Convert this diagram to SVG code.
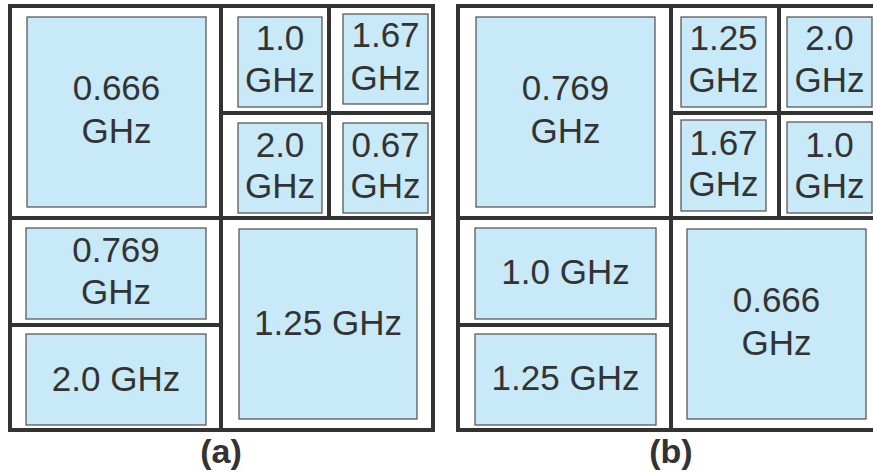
<svg xmlns="http://www.w3.org/2000/svg" width="873" height="472" viewBox="0 0 873 472">
<style>
.frame{fill:none;stroke:#333333;stroke-width:4;stroke-linecap:square}
.box{fill:#c7e9f8;stroke:#5a5a5a;stroke-width:1.3}
.t{font-family:"Liberation Sans",Arial,sans-serif;font-size:35px;fill:#333333;text-anchor:middle}
.lbl{font-family:"Liberation Sans",Arial,sans-serif;font-size:34px;font-weight:bold;fill:#333333;text-anchor:middle}
</style>
<rect width="873" height="472" fill="#ffffff"/>
<g id="connectors">
<path class="frame" d="M10,6 H433 V430 H10 Z M221,6 V430 M10,218 H433 M329,6 V218 M221,113 H433 M10,325 H221"/>
<path class="frame" d="M878,6 H458 V430 H878 M671,6 V430 M458,218 H878 M779,6 V218 M671,113 H878 M458,325 H671"/>
</g>
<g id="a-0666"><rect class="box" x="27" y="17" width="179" height="190"/><text class="t" x="116.5" y="100">0.666</text><text class="t" x="116.5" y="143">GHz</text></g>
<g id="a-10"><rect class="box" x="238" y="17" width="84" height="90"/><text class="t" x="280" y="50">1.0</text><text class="t" x="280" y="92">GHz</text></g>
<g id="a-167"><rect class="box" x="343" y="14" width="85" height="90"/><text class="t" x="385.5" y="47">1.67</text><text class="t" x="385.5" y="90">GHz</text></g>
<g id="a-20"><rect class="box" x="238" y="123" width="84" height="90"/><text class="t" x="280" y="157">2.0</text><text class="t" x="280" y="198">GHz</text></g>
<g id="a-067"><rect class="box" x="343" y="123" width="85" height="90"/><text class="t" x="385.5" y="157">0.67</text><text class="t" x="385.5" y="198">GHz</text></g>
<g id="a-0769"><rect class="box" x="26" y="228" width="180" height="91"/><text class="t" x="116" y="262">0.769</text><text class="t" x="116" y="304">GHz</text></g>
<g id="a-20b"><rect class="box" x="26" y="334" width="180" height="91"/><text class="t" x="116" y="391">2.0 GHz</text></g>
<g id="a-125"><rect class="box" x="239" y="229" width="178" height="190"/><text class="t" x="328" y="335">1.25 GHz</text></g>
<g id="b-0769"><rect class="box" x="476" y="17" width="179" height="190"/><text class="t" x="565.5" y="100">0.769</text><text class="t" x="565.5" y="143">GHz</text></g>
<g id="b-125"><rect class="box" x="681" y="17" width="85" height="90"/><text class="t" x="723.5" y="50">1.25</text><text class="t" x="723.5" y="92">GHz</text></g>
<g id="b-20"><rect class="box" x="787" y="17" width="85" height="90"/><text class="t" x="829.5" y="50">2.0</text><text class="t" x="829.5" y="92">GHz</text></g>
<g id="b-167"><rect class="box" x="681" y="120" width="85" height="91"/><text class="t" x="723.5" y="155">1.67</text><text class="t" x="723.5" y="196">GHz</text></g>
<g id="b-10"><rect class="box" x="787" y="122" width="85" height="91"/><text class="t" x="829.5" y="157">1.0</text><text class="t" x="829.5" y="198">GHz</text></g>
<g id="b-10b"><rect class="box" x="475" y="228" width="181" height="91"/><text class="t" x="565.5" y="284">1.0 GHz</text></g>
<g id="b-125b"><rect class="box" x="475" y="334" width="181" height="91"/><text class="t" x="565.5" y="390">1.25 GHz</text></g>
<g id="b-0666"><rect class="box" x="687" y="229" width="179" height="190"/><text class="t" x="776.5" y="312">0.666</text><text class="t" x="776.5" y="355">GHz</text></g>
<g id="label-a"><text class="lbl" x="221" y="463">(a)</text></g>
<g id="label-b"><text class="lbl" x="671" y="463">(b)</text></g>
</svg>
